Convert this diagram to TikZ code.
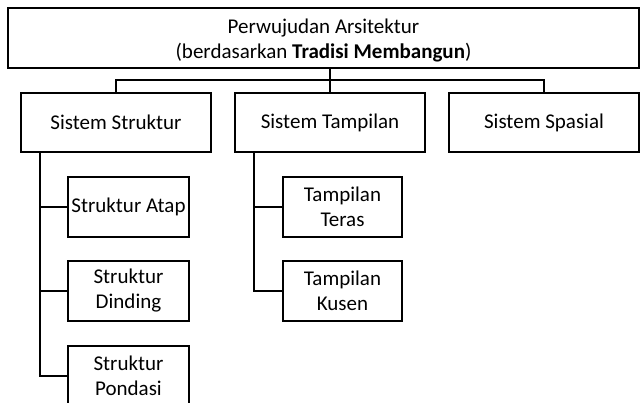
\documentclass[tikz,border=0pt]{standalone}
\usepackage{fontspec}
\setmainfont{Carlito}
\begin{document}
\begin{tikzpicture}[x=1pt,y=-1pt,
  box/.style={draw=black,line width=2.1pt,inner sep=0pt,align=center,
    font=\fontsize{21}{25}\selectfont},
  txt/.style={inner sep=0pt,align=center,font=\fontsize{21}{25}\selectfont},
  conn/.style={draw=black,line width=2.1pt}]
\clip (0,0) rectangle (640,403);
\fill[white] (0,0) rectangle (640,403);
\node[box,minimum width=631,minimum height=60] (top) at (323.5,38) {};
\node[txt] (toptext) at (323.5,40.5)
  {Perwujudan Arsitektur\\(berdasarkan \textbf{Tradisi Membangun})};
\node[box,minimum width=190,minimum height=59] (struk) at (116,122.5) {Sistem Struktur};
\node[box,minimum width=190,minimum height=59] (tamp) at (330,122.5) {Sistem Tampilan};
\node[box,minimum width=190,minimum height=59] (spas) at (544,122.5) {Sistem Spasial};
\node[box,minimum width=121,minimum height=60] (atap) at (128.5,207) {Struktur Atap};
\node[box,minimum width=121,minimum height=60] (dind) at (128.5,291) {Struktur\\Dinding};
\node[box,minimum width=121,minimum height=60] (pond) at (128.5,376) {Struktur\\Pondasi};
\node[box,minimum width=119,minimum height=60] (teras) at (342.5,207) {Tampilan\\Teras};
\node[box,minimum width=119,minimum height=60] (kusen) at (342.5,291) {Tampilan\\Kusen};
\coordinate (bar) at (0,80);
\coordinate (s0) at (40,152);
\coordinate (t0) at (254,152);
\draw[conn] (tamp.north |- top.south) -- (tamp.north);
\draw[conn] (struk.north) |- (bar -| tamp.north) -| (spas.north);
\draw[conn] (s0) |- (pond.west);
\draw[conn] (s0 |- atap.west) -- (atap.west);
\draw[conn] (s0 |- dind.west) -- (dind.west);
\draw[conn] (t0) |- (kusen.west);
\draw[conn] (t0 |- teras.west) -- (teras.west);
\end{tikzpicture}
\end{document}
